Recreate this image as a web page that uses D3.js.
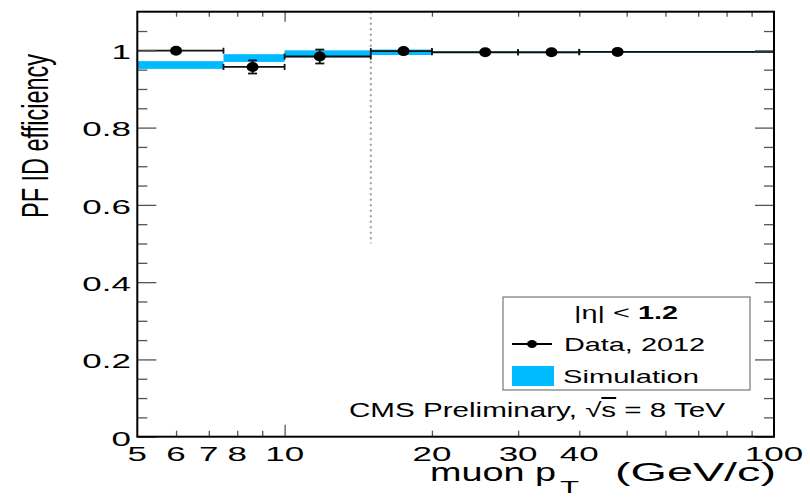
<!DOCTYPE html>
<html>
<head>
<meta charset="utf-8">
<script src="https://cdn.jsdelivr.net/npm/d3@7"></script>
<style>
  html, body { margin: 0; padding: 0; background: #fff; }
  svg { display: block; }
  text { font-family: "Liberation Sans", Arial, Helvetica, sans-serif; fill: #000; }
</style>
</head>
<body>
<svg id="chart" width="810" height="497"></svg>
<script>
// Muon PF ID efficiency vs pT, |eta| < 1.2
const binLow  = [5, 7.5, 10, 15, 20, 30, 40];
const binHigh = [7.5, 10, 15, 20, 30, 40, 100];
const dataPt  = [6.0, 8.6, 11.8, 17.5, 25.7, 35.1, 47.9];
const dataEff = [0.999, 0.957, 0.984, 0.998, 0.995, 0.995, 0.996];
const dataErr = [0.002, 0.017, 0.018, 0.003, 0.002, 0.002, 0.002];
const simEff  = [0.962, 0.980, 0.991, 0.995, 0.995, 0.995, 0.996];
const simErr  = [0.010, 0.010, 0.009, 0.007, 0.002, 0.0015, 0.0015];

const xTickLabels = [5, 6, 7, 8, 10, 20, 30, 40, 100];
const xMinorTicks = [6, 7, 8, 9, 20, 30, 40, 50, 60, 70, 80, 90];
const xMajorTicks = [10];
const yTickLabels = [0, 0.2, 0.4, 0.6, 0.8, 1];
const yMinorTicks = d3.range(1, 22).map(i => +(i * 0.05).toFixed(2)).filter(v => Math.abs(v * 5 - Math.round(v * 5)) > 1e-6);
const thresholdPt = 15;

const L = 137.3, R = 774, T = 11.7, B = 436.7;
const SIM = "#00bbff";

const x = d3.scaleLog().domain([5, 100]).range([L, R]);
const y = d3.scaleLinear().domain([0, 1.1]).range([B, T]);

const svg = d3.select("#chart");

// horizontally stretched text helper
function sText(g, str, px, py, size, sx, anchor, weight) {
  return g.append("text")
    .attr("transform", `translate(${px},${py}) scale(${sx},1)`)
    .attr("text-anchor", anchor || "middle")
    .attr("font-size", size)
    .attr("font-weight", weight || "normal")
    .text(str);
}

// simulation bands
svg.append("g").selectAll("rect")
  .data(binLow.map((lo, i) => ({lo, hi: binHigh[i], v: simEff[i], e: simErr[i]})))
  .join("rect")
  .attr("x", d => x(d.lo))
  .attr("width", d => x(d.hi) - x(d.lo))
  .attr("y", d => y(d.v + d.e))
  .attr("height", d => Math.max(1.5, y(d.v - d.e) - y(d.v + d.e)))
  .attr("fill", SIM);

// threshold line
svg.append("line")
  .attr("x1", x(thresholdPt)).attr("x2", x(thresholdPt))
  .attr("y1", y(1.1)).attr("y2", y(0.5))
  .attr("stroke", "#999").attr("stroke-width", 2)
  .attr("stroke-dasharray", "2,3.5");

// data points with error bars
const pts = dataPt.map((p, i) => ({p, lo: binLow[i], hi: binHigh[i], v: dataEff[i], e: dataErr[i]}));
const dg = svg.append("g").attr("stroke", "#111").attr("stroke-width", 1.8);
dg.selectAll(".h").data(pts).join("line")
  .attr("x1", d => x(d.lo)).attr("x2", d => x(d.hi))
  .attr("y1", d => y(d.v)).attr("y2", d => y(d.v));
dg.selectAll(".hc").data(pts.flatMap(d => [{xv: d.lo, v: d.v}, {xv: d.hi, v: d.v}]).filter(d => d.xv > 5 && d.xv < 100))
  .join("line")
  .attr("x1", d => x(d.xv)).attr("x2", d => x(d.xv))
  .attr("y1", d => y(d.v) - 3).attr("y2", d => y(d.v) + 3);
dg.selectAll(".v").data(pts).join("line")
  .attr("x1", d => x(d.p)).attr("x2", d => x(d.p))
  .attr("y1", d => y(d.v + d.e)).attr("y2", d => y(d.v - d.e));
dg.selectAll(".vc").data(pts.flatMap(d => [d.v + d.e, d.v - d.e].map(v => ({p: d.p, v}))))
  .join("line")
  .attr("x1", d => x(d.p) - 4.5).attr("x2", d => x(d.p) + 4.5)
  .attr("y1", d => y(d.v)).attr("y2", d => y(d.v));
svg.append("g").selectAll("ellipse").data(pts).join("ellipse")
  .attr("cx", d => x(d.p)).attr("cy", d => y(d.v))
  .attr("rx", 6).attr("ry", 5).attr("fill", "#000");

// axes: ticks pointing inward on all four sides
function styleAxis(g) {
  g.select(".domain").remove();
  g.selectAll(".tick line").attr("stroke", "#555").attr("stroke-width", 1.3);
}
svg.append("g").attr("transform", `translate(0,${B})`)
  .call(d3.axisBottom(x).tickValues(xMinorTicks).tickSize(-6).tickFormat("")).call(styleAxis);
svg.append("g").attr("transform", `translate(0,${B})`)
  .call(d3.axisBottom(x).tickValues(xMajorTicks).tickSize(-12).tickFormat("")).call(styleAxis);
svg.append("g").attr("transform", `translate(0,${T})`)
  .call(d3.axisTop(x).tickValues(xMinorTicks).tickSize(-5).tickFormat("")).call(styleAxis);
svg.append("g").attr("transform", `translate(0,${T})`)
  .call(d3.axisTop(x).tickValues(xMajorTicks).tickSize(-10).tickFormat("")).call(styleAxis);
svg.append("g").attr("transform", `translate(${L},0)`)
  .call(d3.axisLeft(y).tickValues(yTickLabels).tickSize(-19).tickFormat("")).call(styleAxis);
svg.append("g").attr("transform", `translate(${L},0)`)
  .call(d3.axisLeft(y).tickValues(yMinorTicks).tickSize(-10).tickFormat("")).call(styleAxis);
svg.append("g").attr("transform", `translate(${R},0)`)
  .call(d3.axisRight(y).tickValues(yTickLabels).tickSize(-19).tickFormat("")).call(styleAxis);
svg.append("g").attr("transform", `translate(${R},0)`)
  .call(d3.axisRight(y).tickValues(yMinorTicks).tickSize(-10).tickFormat("")).call(styleAxis);

// frame
svg.append("rect").attr("x", L).attr("y", T).attr("width", R - L).attr("height", B - T)
  .attr("fill", "none").attr("stroke", "#000").attr("stroke-width", 2);

// tick labels
const lab = svg.append("g");
xTickLabels.forEach(v => sText(lab, String(v), x(v), 460.5, 20, 1.75, "middle"));
yTickLabels.forEach(v => sText(lab, v === 0 ? "0" : (v === 1 ? "1" : v.toFixed(1)), 131, y(v) + 8.8, 20, 1.75, "end"));

// axis titles
svg.append("text")
  .attr("transform", `translate(48,136) scale(1.6,1) rotate(-90)`)
  .attr("text-anchor", "middle").attr("font-size", 23)
  .attr("textLength", 164).attr("lengthAdjust", "spacingAndGlyphs")
  .text("PF ID efficiency");
const xt = svg.append("g");
xt.append("text").attr("x", 430).attr("y", 481).attr("font-size", 26)
  .attr("textLength", 126).attr("lengthAdjust", "spacingAndGlyphs").text("muon p");
xt.append("text").attr("x", 560).attr("y", 493).attr("font-size", 16)
  .attr("textLength", 19).attr("lengthAdjust", "spacingAndGlyphs").text("T");
xt.append("text").attr("x", 615).attr("y", 481).attr("font-size", 26)
  .attr("textLength", 161).attr("lengthAdjust", "spacingAndGlyphs").text("(GeV/c)");

// legend
const lg = svg.append("g");
lg.append("rect").attr("x", 503).attr("y", 297).attr("width", 247).attr("height", 93)
  .attr("fill", "#fff").attr("stroke", "#777").attr("stroke-width", 1.2);
const h = lg.append("text").attr("x", 574).attr("y", 319).attr("font-size", 19)
  .attr("textLength", 104).attr("lengthAdjust", "spacingAndGlyphs");
h.append("tspan").text("|η| < ");
h.append("tspan").attr("font-weight", "bold").text("1.2");
lg.append("line").attr("x1", 512).attr("x2", 552).attr("y1", 344).attr("y2", 344)
  .attr("stroke", "#000").attr("stroke-width", 1.8);
lg.append("ellipse").attr("cx", 532).attr("cy", 344).attr("rx", 5).attr("ry", 4).attr("fill", "#000");
lg.append("text").attr("x", 564).attr("y", 351).attr("font-size", 19)
  .attr("textLength", 141).attr("lengthAdjust", "spacingAndGlyphs").text("Data, 2012");
lg.append("rect").attr("x", 512).attr("y", 366).attr("width", 42).attr("height", 20).attr("fill", SIM);
lg.append("text").attr("x", 563).attr("y", 383).attr("font-size", 19)
  .attr("textLength", 136).attr("lengthAdjust", "spacingAndGlyphs").text("Simulation");

// label
const cms = svg.append("text").attr("x", 349).attr("y", 417).attr("font-size", 20)
  .attr("textLength", 376).attr("lengthAdjust", "spacingAndGlyphs");
cms.append("tspan").text("CMS Preliminary, √");
cms.append("tspan").attr("text-decoration", "overline").text("s");
cms.append("tspan").text(" = 8 TeV");
</script>
</body>
</html>
